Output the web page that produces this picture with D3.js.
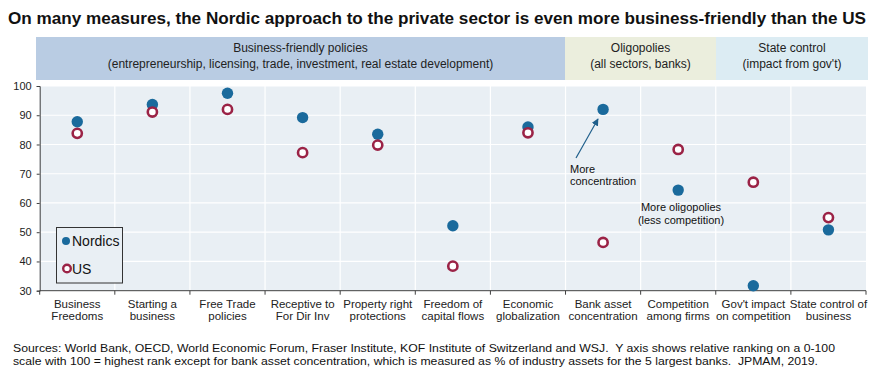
<!DOCTYPE html>
<html><head><meta charset="utf-8">
<script src="https://cdn.jsdelivr.net/npm/d3@7"></script>
<style>body{margin:0;background:#fff}svg{display:block}text{font-family:Arial,"Liberation Sans",sans-serif;white-space:pre}</style>
</head><body><svg id="c" width="878" height="378"></svg>
<script>
const categories = [
  ["Business","Freedoms"],["Starting a","business"],["Free Trade","policies"],
  ["Receptive to","For Dir Inv"],["Property right","protections"],["Freedom of","capital flows"],
  ["Economic","globalization"],["Bank asset","concentration"],["Competition","among firms"],
  ["Gov't impact","on competition"],["State control of","business"]
];
const nordics = [87.8, 93.7, 97.5, 89.2, 83.5, 52.2, 86.0, 92.0, 64.4, 31.7, 50.8];
const us      = [83.8, 91.1, 92.0, 77.2, 79.8, 38.4, 84.0, 46.5, 78.3, 67.1, 55.0];
const yTicks = [30, 40, 50, 60, 70, 80, 90, 100];
const groups = [
  {l1:"Business-friendly policies", l2:"(entrepreneurship, licensing, trade, investment, real estate development)", from:0, to:7, fill:"#b9cce3"},
  {l1:"Oligopolies", l2:"(all sectors, banks)", from:7, to:9, fill:"#ebeedd"},
  {l1:"State control", l2:"(impact from gov't)", from:9, to:11, fill:"#dcecf3"}
];
const title = "On many measures, the Nordic approach to the private sector is even more business-friendly than the US";
const sources = [
  "Sources: World Bank, OECD, World Economic Forum, Fraser Institute, KOF Institute of Switzerland and WSJ.  Y axis shows relative ranking on a 0-100",
  "scale with 100 = highest rank except for bank asset concentration, which is measured as % of industry assets for the 5 largest banks.  JPMAM, 2019."
];
const sourceWidths = [822, 805];

const svg = d3.select("#c");
const L = 39.7, R = 866, T = 86, B = 290.7;
const keys = categories.map((c,i)=>i);
const x = d3.scaleBand().domain(keys).range([L, R]).padding(0);
const y = d3.scaleLinear().domain([30, 100]).range([B, T]);

svg.append("text").attr("x", 8).attr("y", 24).attr("font-size", 17).attr("font-weight", "bold")
  .attr("fill", "#111").attr("textLength", 858).attr("lengthAdjust", "spacingAndGlyphs").text(title);

// header bands
const hx = d3.scaleLinear().domain([0, 7, 9, 11]).range([36, 565, 716, 868]);
groups.forEach(g => {
  const x0 = hx(g.from), x1 = hx(g.to);
  svg.append("rect").attr("x", x0).attr("y", 37).attr("width", x1 - x0).attr("height", 43).attr("fill", g.fill);
  svg.append("text").attr("x", (x0+x1)/2).attr("y", 52).attr("text-anchor","middle").attr("font-size", 12).attr("fill","#222").text(g.l1);
  svg.append("text").attr("x", (x0+x1)/2).attr("y", 68).attr("text-anchor","middle").attr("font-size", 12).attr("fill","#222").text(g.l2);
});

// plot background
svg.append("rect").attr("x", L).attr("y", T).attr("width", R-L).attr("height", B-T).attr("fill", "#e9eff4");
// gridlines
svg.append("g").selectAll("line").data(yTicks.filter(t=>t>30)).join("line")
  .attr("x1", L).attr("x2", R).attr("y1", d=>y(d)).attr("y2", d=>y(d)).attr("stroke","#fff").attr("stroke-width",1.2);
svg.append("g").selectAll("line").data(keys.slice(1)).join("line")
  .attr("x1", d=>x(d)).attr("x2", d=>x(d)).attr("y1", T).attr("y2", B).attr("stroke","#fff").attr("stroke-width",1.2);

// axes
const yAxis = d3.axisLeft(y).tickValues(yTicks).tickSize(3).tickPadding(5);
const gy = svg.append("g").attr("transform",`translate(${L},0)`).call(yAxis);
gy.select(".domain").attr("stroke","#404040");
gy.selectAll(".tick line").attr("stroke","#404040");
gy.selectAll("text").attr("font-size", 11).attr("fill","#222").attr("font-family","Arial,'Liberation Sans',sans-serif");

const xb = svg.append("g");
xb.append("line").attr("x1", L).attr("x2", R).attr("y1", B).attr("y2", B).attr("stroke","#404040");
xb.selectAll("line.t").data(keys.concat([keys.length])).join("line").attr("class","t")
  .attr("x1", d=> d<keys.length ? x(d) : R).attr("x2", d=> d<keys.length ? x(d) : R)
  .attr("y1", B).attr("y2", B+4).attr("stroke","#404040");
const cl = svg.append("g").selectAll("text").data(categories).join("text")
  .attr("text-anchor","middle").attr("font-size", 11.5).attr("fill","#222")
  .attr("transform",(d,i)=>`translate(${x(i)+x.bandwidth()/2},0)`);
cl.append("tspan").attr("x",0).attr("y",308).text(d=>d[0]);
cl.append("tspan").attr("x",0).attr("y",320).text(d=>d[1]);

// legend
svg.append("rect").attr("x",56.5).attr("y",227.5).attr("width",66).attr("height",55.5)
  .attr("fill","#e9eff4").attr("stroke","#333").attr("stroke-width",1);

// points
const NC = "#1a6a9c", UC = "#9b2346";
svg.append("g").selectAll("circle").data(nordics).join("circle")
  .attr("cx",(d,i)=>x(i)+x.bandwidth()/2).attr("cy",d=>y(d)).attr("r",5.7).attr("fill",NC);
svg.append("g").selectAll("circle").data(us).join("circle")
  .attr("cx",(d,i)=>x(i)+x.bandwidth()/2).attr("cy",d=>y(d)).attr("r",4.6).attr("fill","#fff")
  .attr("stroke",UC).attr("stroke-width",2.6);

svg.append("circle").attr("cx",66).attr("cy",241).attr("r",4).attr("fill",NC);
svg.append("text").attr("x",72).attr("y",246).attr("font-size",14).attr("fill","#111").text("Nordics");
svg.append("circle").attr("cx",67).attr("cy",268.5).attr("r",3.8).attr("fill","#fff").attr("stroke",UC).attr("stroke-width",2.4);
svg.append("text").attr("x",72).attr("y",274).attr("font-size",14).attr("fill","#111").text("US");

// annotations
const defs = svg.append("defs");
defs.append("marker").attr("id","ah").attr("viewBox","0 0 10 10").attr("refX",9).attr("refY",5)
  .attr("markerWidth",6).attr("markerHeight",6).attr("orient","auto")
  .append("path").attr("d","M0,0L10,5L0,10z").attr("fill","#1f5f8b");
svg.append("line").attr("x1",576).attr("y1",158).attr("x2",598).attr("y2",119)
  .attr("stroke","#1f5f8b").attr("stroke-width",1.2).attr("marker-end","url(#ah)");
const a1 = svg.append("text").attr("font-size",11).attr("fill","#111");
a1.append("tspan").attr("x",570).attr("y",173).text("More");
a1.append("tspan").attr("x",570).attr("y",185).text("concentration");
const a2 = svg.append("text").attr("font-size",11).attr("fill","#111").attr("text-anchor","middle");
a2.append("tspan").attr("x",681).attr("y",211).text("More oligopolies");
a2.append("tspan").attr("x",681).attr("y",224).text("(less competition)");

// sources
svg.append("g").selectAll("text").data(sources).join("text")
  .attr("x",13).attr("y",(d,i)=>352+i*13).attr("font-size",11.5).attr("fill","#111")
  .attr("textLength",(d,i)=>sourceWidths[i]).attr("lengthAdjust","spacingAndGlyphs").text(d=>d);
</script></body></html>
